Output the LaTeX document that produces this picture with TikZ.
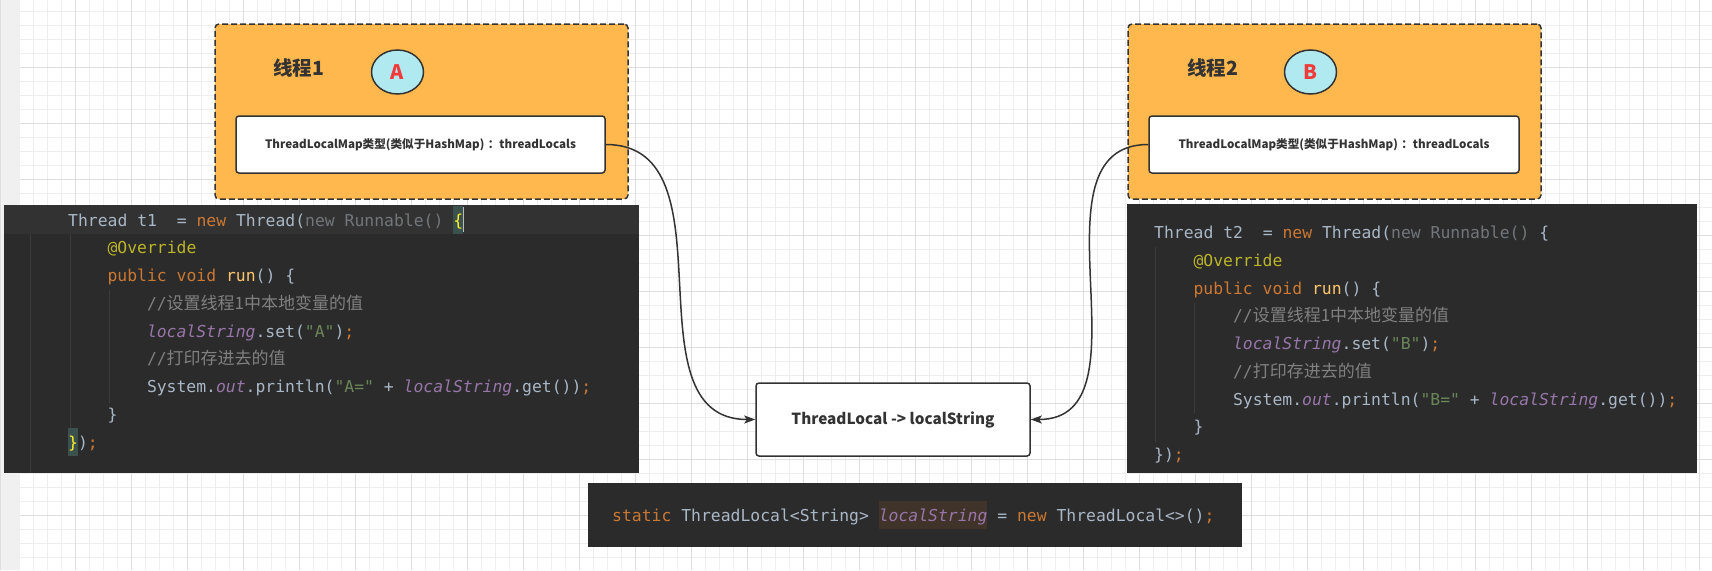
\documentclass[tikz,border=0pt]{standalone}
\usepackage{fontspec}
\setmainfont{Noto Sans CJK SC}
\newfontfamily\codefont{DejaVu Sans Mono}
\newfontfamily\cjkfont{Noto Sans CJK SC}
\usetikzlibrary{arrows.meta,shapes.geometric}

\definecolor{linec}{HTML}{333333}
\definecolor{textc}{HTML}{333333}
\definecolor{orangec}{HTML}{FFB84D}
\definecolor{tagc}{HTML}{B1E9F0}
\definecolor{redc}{HTML}{F03A3A}
\definecolor{minorc}{HTML}{EEEEEE}
\definecolor{majorc}{HTML}{DEDEDE}
\definecolor{stripc}{HTML}{F0F0F0}
\definecolor{bgc}{HTML}{2B2B2B}
\definecolor{curc}{HTML}{323232}
\definecolor{guidec}{HTML}{3C3C3C}
\definecolor{dftc}{HTML}{A9B7C6}
\definecolor{kwc}{HTML}{CC7832}
\definecolor{annc}{HTML}{BBB529}
\definecolor{mtdc}{HTML}{FFC66D}
\definecolor{cmtc}{HTML}{808080}
\definecolor{fldc}{HTML}{9876AA}
\definecolor{strc}{HTML}{6A8759}
\definecolor{gryc}{HTML}{72767B}
\definecolor{bracec}{HTML}{FFEF28}
\definecolor{bracebg}{HTML}{3B514D}
\definecolor{fieldbg}{HTML}{40332A}
\definecolor{caretc}{HTML}{BBBBBB}

% code colouring
\newcommand\kwd[1]{\textcolor{kwc}{#1}}
\newcommand\ann[1]{\textcolor{annc}{#1}}
\newcommand\mtd[1]{\textcolor{mtdc}{#1}}
\newcommand\cmt[1]{\textcolor{cmtc}{//{\cjkfont\fontsize{17}{20}\selectfont #1}}}
\newcommand\fld[1]{\textcolor{fldc}{\itshape #1}}
\newcommand\jstr[1]{\textcolor{strc}{#1}}
\newcommand\gry[1]{\textcolor{gryc}{#1}}
\newcommand\hlb[1]{{\fboxsep=0pt\colorbox{bracebg}{\rule[-8pt]{0pt}{28pt}\textcolor{bracec}{#1}}}}
\newcommand\hlf[1]{{\fboxsep=0pt\colorbox{fieldbg}{\rule[-8pt]{0pt}{28pt}\fld{#1}}}}
\newcommand\cursorbar{\textcolor{caretc}{\rule[-6pt]{1.3pt}{25pt}}}
\newcommand\maptext{ThreadLocalMap类型(类似于HashMap)\kern0.3em：threadLocals}

\tikzset{
  threadbox/.style={draw=linec, fill=orangec, line width=1.5pt, dash pattern=on 6pt off 3pt, rounded corners=4pt},
  mapbox/.style={draw=linec, fill=white, line width=1.5pt, rounded corners=3pt, text=textc, font=\bfseries\fontsize{11.6}{14}\selectfont},
  threadname/.style={text=textc, font=\bfseries\fontsize{19.5}{23}\selectfont},
  tagcircle/.style={ellipse, draw=linec, fill=tagc, line width=1.5pt, inner sep=0pt, minimum width=52pt, minimum height=44pt, text=redc, font=\bfseries\fontsize{20}{24}\selectfont},
  codeblock/.style={fill=bgc, inner sep=0pt},
  codeline/.style={anchor=base west, inner sep=0pt, text=dftc, font=\codefont\fontsize{16.4}{20}\selectfont\frenchspacing},
  guide/.style={draw=guidec, line width=1pt},
  arrowlink/.style={draw=linec, line width=1.5pt, -{Stealth[length=11pt, width=8pt, inset=2.5pt]}},
}

\begin{document}
\begin{tikzpicture}[x=1pt, y=-1pt]
    \useasboundingbox (0,0) rectangle (1712,570);
    % grid
    \fill [white] (0,0) rectangle (1712,570);
    \foreach \gx in {33.3,47.3,...,1712} \draw [minorc, line width=1pt] (\gx,0) -- (\gx,570);
    \foreach \gy in {11.3,25.3,...,570} \draw [minorc, line width=1pt] (20,\gy) -- (1712,\gy);
    \foreach \gx in {75.3,131.3,...,1712} \draw [majorc, line width=1pt] (\gx,0) -- (\gx,570);
    \foreach \gy in {67.3,123.3,...,570} \draw [majorc, line width=1pt] (20,\gy) -- (1712,\gy);
    \fill [stripc] (0,0) rectangle (20,570);
    \draw [majorc, line width=1pt] (0.5,0) -- (0.5,570);

    % threads
    \node [threadbox, minimum width=413pt, minimum height=175pt] (thread1) at (421.5,111.5) {};
    \node [threadbox, minimum width=413pt, minimum height=175pt] (thread2) at (1334.5,111.5) {};
    \node [threadname] (name1) at (298.5,68) {线程1};
    \node [threadname] (name2) at (1212.5,68) {线程2};
    \node [tagcircle] (tagA) at (397.5,72) {A};
    \node [tagcircle] (tagB) at (1310.5,72) {B};
    \node [mapbox, minimum width=369pt, minimum height=57pt] (map1) at (420.5,144.5) {\maptext};
    \node [mapbox, minimum width=370pt, minimum height=57pt] (map2) at (1334,144.5) {\maptext};
    \node [mapbox, minimum width=274pt, minimum height=73pt, font=\bfseries\fontsize{15.3}{18}\selectfont] (tl) at (893,419.5) {ThreadLocal -> localString};

    % code of thread 1
    \node [codeblock, minimum width=635pt, minimum height=268pt] (code1) at (321.5,339) {};
    \draw [guide] (30.5,205) -- (30.5,473);
    \fill [curc] (4,205) rectangle (639,234);
    \draw [guide] (70.5,234) -- (70.5,434);
    \draw [guide] (109.5,290) -- (109.5,403);
    \node [codeline] (a1) at (68,226) {Thread t1~~= \kwd{new} Thread(\gry{new Runnable()} \hlb{\{}\cursorbar};
    \node [codeline] (a2) at (107.4,253.75) {\ann{@Override}};
    \node [codeline] (a3) at (107.4,281.5) {\kwd{public void} \mtd{run}() \{};
    \node [codeline] (a4) at (146.8,309.25) {\cmt{设置线程1中本地变量的值}};
    \node [codeline] (a5) at (146.8,337) {\fld{localString}.set(\jstr{"A"})\kwd{;}};
    \node [codeline] (a6) at (146.8,364.75) {\cmt{打印存进去的值}};
    \node [codeline] (a7) at (146.8,392.5) {System.\fld{out}.println(\jstr{"A="} + \fld{localString}.get())\kwd{;}};
    \node [codeline] (a8) at (107.4,420.25) {\}};
    \node [codeline] (a9) at (68,448) {\hlb{\}})\kwd{;}};

    % code of thread 2
    \node [codeblock, minimum width=570pt, minimum height=269pt] (code2) at (1412,338.5) {};
    \draw [guide] (1155.5,247) -- (1155.5,442);
    \draw [guide] (1194.5,303) -- (1194.5,413);
    \node [codeline] (b1) at (1154,238.7) {Thread t2~~= \kwd{new} Thread(\gry{new Runnable()} \{};
    \node [codeline] (b2) at (1193.4,266.45) {\ann{@Override}};
    \node [codeline] (b3) at (1193.4,294.2) {\kwd{public void} \mtd{run}() \{};
    \node [codeline] (b4) at (1232.8,321.95) {\cmt{设置线程1中本地变量的值}};
    \node [codeline] (b5) at (1232.8,349.7) {\fld{localString}.set(\jstr{"B"})\kwd{;}};
    \node [codeline] (b6) at (1232.8,377.45) {\cmt{打印存进去的值}};
    \node [codeline] (b7) at (1232.8,405.2) {System.\fld{out}.println(\jstr{"B="} + \fld{localString}.get())\kwd{;}};
    \node [codeline] (b8) at (1193.4,432.95) {\}};
    \node [codeline] (b9) at (1154,460.7) {\})\kwd{;}};

    % shared ThreadLocal
    \node [codeblock, minimum width=654pt, minimum height=64pt] (decl) at (915,515) {};
    \node [codeline] (c1) at (612,521) {\kwd{static} ThreadLocal<String> \hlf{localString} = \kwd{new} ThreadLocal<>()\kwd{;}};

    \path (map1) edge [arrowlink, out=0, in=180, looseness=1.07] (tl);
    \path (map2) edge [arrowlink, out=180, in=0, looseness=1.07] (tl);
\end{tikzpicture}
\end{document}
